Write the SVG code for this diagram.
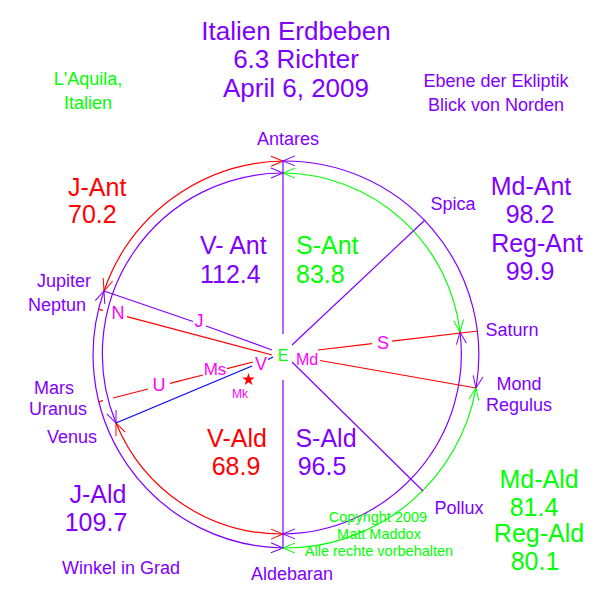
<svg xmlns="http://www.w3.org/2000/svg" width="600" height="600" viewBox="0 0 600 600">
<style>
text{font-family:"Liberation Sans",Arial,sans-serif}
.p{fill:#8000ff}.r{fill:#ff0000}.g{fill:#00ff00}.m{fill:#ff00ff}
.t{font-size:26px;text-anchor:middle}
.v{font-size:25px}
.l{font-size:18px}
.c{font-size:14.5px;text-anchor:middle}
.arc{fill:none;stroke-width:1.2}
.ln{fill:none;stroke-width:1.2}
</style>
<defs>
<marker id="ar" viewBox="-14 -7 16 14" refX="0" refY="0" markerWidth="16" markerHeight="14" orient="auto-start-reverse" markerUnits="userSpaceOnUse" overflow="visible"><path d="M-12,-5 L0,0 L-12,5" fill="none" stroke="#ff0000"/></marker>
<marker id="ap" viewBox="-14 -7 16 14" refX="0" refY="0" markerWidth="16" markerHeight="14" orient="auto-start-reverse" markerUnits="userSpaceOnUse" overflow="visible"><path d="M-12,-5 L0,0 L-12,5" fill="none" stroke="#8000ff"/></marker>
<marker id="ag" viewBox="-14 -7 16 14" refX="0" refY="0" markerWidth="16" markerHeight="14" orient="auto-start-reverse" markerUnits="userSpaceOnUse" overflow="visible"><path d="M-12,-5 L0,0 L-12,5" fill="none" stroke="#00ff00"/></marker>
</defs>
<rect width="600" height="600" fill="#fff"/>
<g id="connectors">
<path class="arc" stroke="#ff0000" marker-start="url(#ar)" marker-end="url(#ar)" d="M104,291 A193,193 0 0 1 283,161"/>
<path class="arc" stroke="#8000ff" marker-start="url(#ap)" marker-end="url(#ap)" d="M116,423 A181,181 0 0 1 283,173"/>
<path class="arc" stroke="#ff0000" marker-start="url(#ar)" marker-end="url(#ar)" d="M116,423 A179,179 0 0 0 283,534"/>
<path class="arc" stroke="#8000ff" marker-start="url(#ap)" marker-end="url(#ap)" d="M104,291 A193,193 0 0 0 283,548"/>
<path class="arc" stroke="#00ff00" marker-start="url(#ag)" marker-end="url(#ag)" d="M283,173 A180,180 0 0 1 460,332"/>
<path class="arc" stroke="#8000ff" marker-start="url(#ap)" marker-end="url(#ap)" d="M283,161 A194,194 0 0 1 476,388"/>
<path class="arc" stroke="#8000ff" marker-start="url(#ap)" marker-end="url(#ap)" d="M460,332 A180,180 0 0 1 283,534"/>
<path class="arc" stroke="#00ff00" marker-start="url(#ag)" marker-end="url(#ag)" d="M476,388 A194,194 0 0 1 283,548"/>
<path class="ln" stroke="#8000ff" d="M283,161 V334 M283,380 V548"/>
<path class="ln" stroke="#8000ff" d="M272,350 L206,326 M193,321.5 L104,291"/>
<path class="ln" stroke="#ff0000" d="M98,309 L103,310.3 M127,316.7 L272,355"/>
<path class="ln" stroke="#ff0000" d="M253,362 L227,368.7 M203,375 L170,383.4 M148,389 L113,398 M103,400.7 L98,402"/>
<path class="ln" stroke="#0000ff" d="M116,423 L252,366 M268,359.5 L273,357"/>
<path class="ln" stroke="#8000ff" d="M292,345 L425,220"/>
<path class="ln" stroke="#8000ff" d="M292,362 L423,491"/>
<path class="ln" stroke="#ff0000" d="M318,350 L372,343.6 M392,341.2 L478,331"/>
<path class="ln" stroke="#ff0000" d="M320,360.5 L476,388"/>
</g>
<g id="title">
<text class="t p" x="296" y="40">Italien Erdbeben</text>
<text class="t p" x="296" y="68">6.3 Richter</text>
<text class="t p" x="296" y="97">April 6, 2009</text>
</g>
<g id="place">
<text class="l g" x="88" y="85" text-anchor="middle">L'Aquila,</text>
<text class="l g" x="88" y="109" text-anchor="middle">Italien</text>
</g>
<g id="plane">
<text class="l p" x="496" y="87" text-anchor="middle" font-size="17.5">Ebene der Ekliptik</text>
<text class="l p" x="496" y="111" text-anchor="middle" font-size="17.5">Blick von Norden</text>
</g>
<g id="center"><text x="283" y="361" text-anchor="middle" font-size="16" fill="#00ff00">E</text></g>
<g id="antares"><text class="l p" x="288" y="145" text-anchor="middle">Antares</text></g>
<g id="aldebaran"><text class="l p" x="292" y="580" text-anchor="middle">Aldebaran</text></g>
<g id="spica"><text class="l p" x="453" y="210" text-anchor="middle">Spica</text></g>
<g id="pollux"><text class="l p" x="459" y="514" text-anchor="middle">Pollux</text></g>
<g id="jupiter"><text class="l p" x="64" y="287" text-anchor="middle">Jupiter</text><text class="m" x="199" y="327" font-size="18" text-anchor="middle">J</text></g>
<g id="neptun"><text class="l p" x="57" y="311" text-anchor="middle">Neptun</text><text class="m" x="118" y="319" font-size="18" text-anchor="middle">N</text></g>
<g id="mars"><text class="l p" x="54" y="394" text-anchor="middle">Mars</text><text class="m" x="215" y="375" font-size="17" text-anchor="middle">Ms</text></g>
<g id="uranus"><text class="l p" x="58" y="415" text-anchor="middle">Uranus</text><text class="m" x="159" y="391" font-size="18" text-anchor="middle">U</text></g>
<g id="venus"><text class="l p" x="72" y="443" text-anchor="middle">Venus</text><text class="m" x="261" y="370" font-size="18" text-anchor="middle">V</text></g>
<g id="merkur"><text class="m" x="240" y="398" font-size="12" text-anchor="middle">Mk</text><path d="M248.5,373 L250,377.6 L254.8,377.6 L250.9,380.4 L252.4,385 L248.5,382.2 L244.6,385 L246.1,380.4 L242.2,377.6 L247,377.6 Z" fill="#ff0000"/></g>
<g id="saturn"><text class="l p" x="512" y="336" text-anchor="middle">Saturn</text><text class="m" x="383" y="349" font-size="18" text-anchor="middle">S</text></g>
<g id="mond"><text class="l p" x="519" y="390" text-anchor="middle">Mond</text><text class="l p" x="519" y="411" text-anchor="middle">Regulus</text><text class="m" x="307" y="365" font-size="16" text-anchor="middle">Md</text></g>
<g id="angles">
<text class="v r" x="68" y="196">J-Ant</text>
<text class="v r" x="68" y="223">70.2</text>
<text class="v p" x="200" y="254">V- Ant</text>
<text class="v p" x="200" y="283">112.4</text>
<text class="v g" x="296" y="254">S-Ant</text>
<text class="v g" x="296" y="283">83.8</text>
<text class="v p" x="531" y="195" text-anchor="middle">Md-Ant</text>
<text class="v p" x="530" y="223" text-anchor="middle">98.2</text>
<text class="v p" x="537" y="252" text-anchor="middle">Reg-Ant</text>
<text class="v p" x="530" y="280" text-anchor="middle">99.9</text>
<text class="v r" x="237" y="447" text-anchor="middle">V-Ald</text>
<text class="v r" x="236" y="475" text-anchor="middle">68.9</text>
<text class="v p" x="326" y="447" text-anchor="middle">S-Ald</text>
<text class="v p" x="322" y="475" text-anchor="middle">96.5</text>
<text class="v g" x="539" y="488" text-anchor="middle">Md-Ald</text>
<text class="v g" x="534" y="516" text-anchor="middle">81.4</text>
<text class="v g" x="539" y="542" text-anchor="middle">Reg-Ald</text>
<text class="v g" x="535" y="570" text-anchor="middle">80.1</text>
<text class="v p" x="98" y="503" text-anchor="middle">J-Ald</text>
<text class="v p" x="96" y="531" text-anchor="middle">109.7</text>
</g>
<g id="notes">
<text class="l p" x="121" y="574" text-anchor="middle">Winkel in Grad</text>
<text class="c g" x="378" y="522">Copyright 2009</text>
<text class="c g" x="379" y="539">Matt Maddox</text>
<text class="c g" x="379" y="556">Alle rechte vorbehalten</text>
</g>
</svg>
